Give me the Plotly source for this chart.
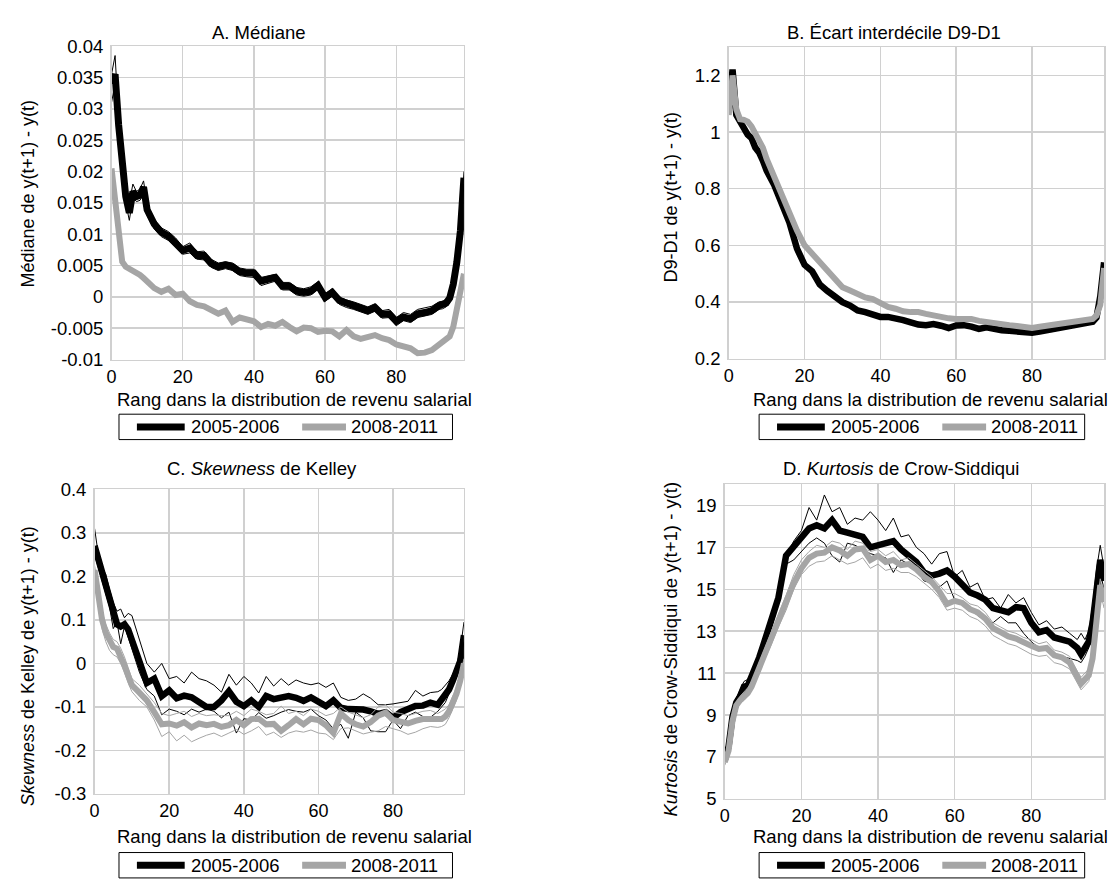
import plotly.graph_objects as go

# ---------------- data ----------------
RANK = [0, 1, 2, 3, 4, 5, 6, 7, 8, 9, 10,
        12, 14, 16, 18, 20, 22, 24, 26, 28, 30,
        32, 34, 36, 38, 40, 42, 44, 46, 48, 50,
        52, 54, 56, 58, 60, 62, 64, 66, 68, 70,
        72, 74, 76, 78, 80, 82, 84, 86, 88, 90,
        92, 93, 94, 95, 96, 97, 98, 99]

X_TICKS = [0, 20, 40, 60, 80]

# A. Mediane
A_2005 = [0.0340, 0.0355, 0.0274, 0.0207, 0.0160, 0.0134, 0.0168, 0.0160, 0.0162, 0.0175, 0.0139,
          0.0116, 0.0103, 0.0097, 0.0087, 0.0074, 0.0078, 0.0066, 0.0066, 0.0053, 0.0048,
          0.0051, 0.0048, 0.0040, 0.0038, 0.0038, 0.0025, 0.0027, 0.0031, 0.0017, 0.0017,
          0.0009, 0.0007, 0.0009, 0.0018, -0.0001, 0.0007, -0.0006, -0.0011, -0.0014, -0.0018,
          -0.0022, -0.0017, -0.0028, -0.0027, -0.0039, -0.0032, -0.0035, -0.0027, -0.0025, -0.0022,
          -0.0014, -0.0013, -0.0010, -0.0002, 0.0020, 0.0055, 0.0105, 0.0190]
A_2005_HI = [0.0355, 0.0385, 0.0285, 0.0215, 0.0170, 0.0150, 0.0180, 0.0168, 0.0172, 0.0185, 0.0148,
             0.0124, 0.0110, 0.0104, 0.0094, 0.0080, 0.0086, 0.0072, 0.0073, 0.0060, 0.0054,
             0.0056, 0.0054, 0.0046, 0.0044, 0.0044, 0.0031, 0.0034, 0.0036, 0.0023, 0.0023,
             0.0015, 0.0013, 0.0016, 0.0024, 0.0005, 0.0013, 0.0000, -0.0005, -0.0008, -0.0012,
             -0.0016, -0.0011, -0.0022, -0.0020, -0.0033, -0.0025, -0.0028, -0.0020, -0.0018, -0.0015,
             -0.0008, -0.0007, -0.0004, 0.0005, 0.0028, 0.0063, 0.0115, 0.0200]
A_2005_LO = [0.0310, 0.0340, 0.0262, 0.0198, 0.0150, 0.0122, 0.0158, 0.0152, 0.0154, 0.0165, 0.0130,
             0.0108, 0.0096, 0.0090, 0.0080, 0.0068, 0.0070, 0.0060, 0.0059, 0.0047, 0.0042,
             0.0045, 0.0042, 0.0034, 0.0032, 0.0031, 0.0018, 0.0021, 0.0025, 0.0011, 0.0011,
             0.0003, 0.0001, 0.0003, 0.0012, -0.0007, 0.0001, -0.0012, -0.0017, -0.0020, -0.0024,
             -0.0028, -0.0023, -0.0034, -0.0033, -0.0046, -0.0038, -0.0041, -0.0033, -0.0031, -0.0028,
             -0.0020, -0.0019, -0.0016, -0.0008, 0.0013, 0.0048, 0.0097, 0.0180]
A_2008 = [0.0205, 0.0160, 0.0097, 0.0056, 0.0048, 0.0045, 0.0041, 0.0038, 0.0035, 0.0030, 0.0024,
          0.0014, 0.0008, 0.0013, 0.0003, 0.0005, -0.0007, -0.0013, -0.0015, -0.0022, -0.0027,
          -0.0022, -0.0040, -0.0033, -0.0037, -0.0039, -0.0048, -0.0043, -0.0046, -0.0040, -0.0048,
          -0.0055, -0.0049, -0.0050, -0.0056, -0.0054, -0.0055, -0.0063, -0.0053, -0.0063, -0.0067,
          -0.0063, -0.0061, -0.0066, -0.0069, -0.0076, -0.0078, -0.0082, -0.0090, -0.0089, -0.0085,
          -0.0077, -0.0072, -0.0068, -0.0063, -0.0048, -0.0022, 0.0008, 0.0037]

# B. Ecart interdecile D9-D1
B_2005 = [1.08, 1.221, 1.06, 1.031, 1.014, 0.991, 0.979, 0.945, 0.928, 0.899, 0.864,
          0.813, 0.749, 0.680, 0.588, 0.531, 0.508, 0.462, 0.439, 0.416, 0.399,
          0.387, 0.370, 0.364, 0.358, 0.347, 0.347, 0.344, 0.336, 0.328, 0.320,
          0.318, 0.322, 0.316, 0.308, 0.317, 0.318, 0.313, 0.305, 0.310, 0.304,
          0.300, 0.298, 0.295, 0.294, 0.291, 0.295, 0.300, 0.306, 0.312, 0.316,
          0.320, 0.322, 0.324, 0.326, 0.330, 0.345, 0.42, 0.54]
B_2008 = [1.06, 1.20, 1.08, 1.045, 1.043, 1.037, 1.02, 0.996, 0.979, 0.945, 0.905,
          0.841, 0.784, 0.715, 0.652, 0.600, 0.571, 0.537, 0.508, 0.478, 0.452,
          0.440, 0.428, 0.416, 0.410, 0.393, 0.382, 0.376, 0.367, 0.364, 0.364,
          0.358, 0.352, 0.348, 0.342, 0.340, 0.341, 0.340, 0.333, 0.328, 0.324,
          0.321, 0.318, 0.315, 0.313, 0.308, 0.312, 0.316, 0.322, 0.326, 0.331,
          0.334, 0.334, 0.335, 0.336, 0.340, 0.352, 0.39, 0.52]

# C. Skewness de Kelley
C_2005 = [0.27, 0.24, 0.205, 0.175, 0.155, 0.12, 0.09, 0.085, 0.09, 0.078, 0.05,
          0.005, -0.045, -0.035, -0.075, -0.062, -0.08, -0.074, -0.078, -0.088, -0.1,
          -0.1, -0.085, -0.064, -0.088, -0.098, -0.085, -0.1, -0.075, -0.082, -0.079,
          -0.075, -0.079, -0.086, -0.078, -0.088, -0.098, -0.085, -0.102, -0.105, -0.104,
          -0.106, -0.11, -0.116, -0.112, -0.125, -0.112, -0.105, -0.098, -0.097, -0.09,
          -0.095, -0.085, -0.075, -0.06, -0.04, -0.02, 0.005, 0.065]
C_2005_HI = [0.31, 0.25, 0.22, 0.205, 0.17, 0.14, 0.12, 0.125, 0.105, 0.115, 0.11,
             0.055, 0.0, -0.02, 0.0, -0.035, -0.03, -0.045, -0.02, -0.035, -0.04,
             -0.05, -0.066, -0.025, -0.05, -0.03, -0.045, -0.068, -0.03, -0.052, -0.035,
             -0.05, -0.038, -0.045, -0.049, -0.045, -0.055, -0.045, -0.078, -0.085, -0.082,
             -0.07, -0.08, -0.095, -0.095, -0.093, -0.09, -0.087, -0.062, -0.075, -0.067,
             -0.065, -0.06, -0.05, -0.04, -0.025, -0.005, 0.03, 0.095]
C_2005_LO = [0.25, 0.22, 0.19, 0.16, 0.13, 0.08, 0.095, 0.045, 0.085, 0.06, 0.035,
             -0.02, -0.06, -0.075, -0.118, -0.105, -0.11, -0.118, -0.105, -0.112, -0.105,
             -0.11, -0.125, -0.112, -0.16, -0.127, -0.13, -0.113, -0.126, -0.12, -0.112,
             -0.106, -0.11, -0.112, -0.105, -0.12, -0.13, -0.15, -0.14, -0.172, -0.112,
             -0.125, -0.155, -0.157, -0.157, -0.13, -0.15, -0.12, -0.112, -0.122, -0.124,
             -0.11, -0.1, -0.09, -0.07, -0.05, -0.03, -0.005, 0.05]
C_2008 = [0.215, 0.15, 0.1, 0.07, 0.052, 0.038, 0.034, 0.018, -0.005, -0.028, -0.05,
          -0.067, -0.085, -0.112, -0.14, -0.138, -0.143, -0.135, -0.147, -0.138, -0.142,
          -0.139, -0.146, -0.142, -0.13, -0.142, -0.128, -0.127, -0.14, -0.139, -0.155,
          -0.142, -0.128, -0.14, -0.127, -0.13, -0.142, -0.16, -0.115, -0.13, -0.14,
          -0.145, -0.135, -0.12, -0.113, -0.13, -0.135, -0.138, -0.132, -0.128, -0.128,
          -0.13, -0.128, -0.122, -0.11, -0.09, -0.07, -0.04, 0.0]
C_2008_HI = [0.225, 0.17, 0.12, 0.09, 0.07, 0.055, 0.05, 0.035, 0.015, -0.01, -0.035,
             -0.05, -0.07, -0.09, -0.115, -0.12, -0.115, -0.11, -0.122, -0.115, -0.12,
             -0.118, -0.12, -0.12, -0.11, -0.12, -0.105, -0.11, -0.118, -0.115, -0.098,
             -0.115, -0.11, -0.12, -0.105, -0.11, -0.12, -0.115, -0.1, -0.112, -0.118,
             -0.125, -0.118, -0.1, -0.095, -0.112, -0.115, -0.12, -0.115, -0.11, -0.108,
             -0.115, -0.11, -0.105, -0.095, -0.075, -0.055, -0.025, 0.01]
C_2008_LO = [0.19, 0.13, 0.08, 0.05, 0.03, 0.02, 0.015, 0.0, -0.02, -0.045, -0.065,
             -0.085, -0.1, -0.13, -0.168, -0.157, -0.178, -0.165, -0.18, -0.172, -0.165,
             -0.16, -0.168, -0.16, -0.152, -0.163, -0.155, -0.145, -0.165, -0.158, -0.17,
             -0.16, -0.155, -0.158, -0.153, -0.16, -0.162, -0.175, -0.15, -0.148, -0.155,
             -0.162, -0.158, -0.155, -0.145, -0.15, -0.155, -0.163, -0.158, -0.15, -0.145,
             -0.147, -0.145, -0.14, -0.125, -0.105, -0.085, -0.05, -0.01]

# D. Kurtosis de Crow-Siddiqui
D_2005 = [6.85, 7.5, 8.9, 9.6, 9.9, 10.35, 10.4, 10.8, 11.3, 11.75, 12.3,
          13.4, 14.6, 16.6, 17.05, 17.5, 17.9, 18.05, 17.9, 18.3, 17.8,
          17.7, 17.6, 17.5, 17.0, 17.1, 17.2, 17.3, 16.9, 16.6, 16.3,
          15.8, 15.65, 15.75, 15.9, 15.6, 15.2, 14.85, 14.7, 14.5, 14.1,
          14.0, 13.9, 14.15, 14.1, 13.4, 12.95, 13.05, 12.7, 12.6, 12.5,
          12.2, 11.9, 12.2, 12.5, 13.4, 15.0, 16.4, 15.4]
D_2005_HI = [6.9, 7.6, 9.1, 9.8, 10.2, 10.6, 10.7, 11.0, 11.5, 12.0, 12.5,
             13.6, 15.0, 16.6, 17.3, 17.8, 18.9, 18.3, 19.5, 18.7, 18.9,
             18.1, 18.4, 18.3, 18.7, 18.3, 17.8, 18.4, 17.5, 17.6, 17.0,
             16.7, 16.2, 16.7, 16.8, 15.6, 15.9, 15.1, 15.3, 14.5, 14.6,
             14.1, 14.75, 14.35, 14.6, 13.9, 13.3, 13.5, 13.1, 13.2, 12.9,
             12.6, 12.9, 12.6, 13.0, 14.2, 15.9, 17.1, 16.0]
D_2005_LO = [6.8, 7.3, 8.7, 9.4, 9.7, 10.0, 10.2, 10.5, 11.0, 11.5, 12.0,
             13.1, 14.3, 16.2, 16.4, 16.8, 17.2, 17.45, 17.2, 16.6, 16.3,
             17.2, 17.1, 16.9, 16.7, 16.6, 16.5, 15.8, 16.4, 16.2, 15.9,
             15.4, 15.3, 15.1, 15.4, 14.5, 14.4, 14.05, 13.75, 13.5, 13.4,
             13.7, 13.4, 13.4, 12.9, 12.5, 12.2, 12.25, 11.95, 11.8, 11.7,
             11.6, 11.5, 11.8, 12.2, 13.0, 14.5, 15.8, 15.0]
D_2008 = [6.75, 7.3, 8.7, 9.45, 9.7, 9.85, 10.05, 10.35, 10.8, 11.25, 11.75,
          12.6, 13.5, 14.35, 15.3, 16.0, 16.5, 16.7, 16.75, 17.0, 16.85,
          16.6, 16.9, 16.95, 16.4, 16.6, 16.3, 16.4, 16.15, 16.2, 15.95,
          15.6, 15.35, 14.9, 14.3, 14.45, 14.35, 14.05, 13.9, 13.6, 13.15,
          12.95, 12.75, 12.65, 12.45, 12.3, 12.15, 12.2, 11.85, 11.75, 11.5,
          10.8, 10.5, 10.7, 10.9, 11.7, 13.8, 15.2, 14.4]
D_2008_HI = [6.9, 7.5, 8.9, 9.6, 9.9, 10.1, 10.3, 10.6, 11.0, 11.5, 12.0,
             12.9, 13.8, 14.7, 15.7, 16.4, 16.8, 17.1, 17.0, 17.3, 17.2,
             16.9, 17.3, 17.2, 16.8, 16.9, 16.6, 16.8, 16.4, 16.5, 16.2,
             15.9, 15.6, 15.2, 14.8, 14.8, 14.6, 14.3, 14.2, 13.9, 13.4,
             13.2, 13.0, 12.9, 12.7, 12.6, 12.4, 12.5, 12.1, 12.0, 11.8,
             11.1, 10.8, 11.0, 11.2, 12.0, 14.1, 15.5, 14.7]
D_2008_LO = [6.6, 7.1, 8.5, 9.3, 9.55, 9.7, 9.9, 10.2, 10.6, 11.05, 11.5,
             12.3, 13.2, 14.0, 15.0, 15.7, 16.1, 16.3, 16.35, 16.6, 16.4,
             16.2, 16.3, 16.5, 16.0, 16.2, 15.9, 16.0, 15.8, 15.8, 15.6,
             15.3, 15.0, 14.6, 14.0, 14.1, 14.0, 13.7, 13.55, 13.25, 12.8,
             12.6, 12.4, 12.3, 12.1, 11.9, 11.8, 11.85, 11.5, 11.4, 11.2,
             10.5, 10.2, 10.4, 10.6, 11.4, 13.5, 14.9, 14.1]

A_TICKS = [-0.01, -0.005, 0, 0.005, 0.01, 0.015, 0.02, 0.025, 0.03, 0.035, 0.04]
A_TICKTEXT = ["-0.01", "-0.005", "0", "0.005", "0.01", "0.015", "0.02", "0.025", "0.03", "0.035", "0.04"]
B_TICKS = [0.2, 0.4, 0.6, 0.8, 1.0, 1.2]
B_TICKTEXT = ["0.2", "0.4", "0.6", "0.8", "1", "1.2"]
C_TICKS = [-0.3, -0.2, -0.1, 0, 0.1, 0.2, 0.3, 0.4]
C_TICKTEXT = ["-0.3", "-0.2", "-0.1", "0", "0.1", "0.2", "0.3", "0.4"]
D_TICKS = [5, 7, 9, 11, 13, 15, 17, 19]
D_TICKTEXT = ["5", "7", "9", "11", "13", "15", "17", "19"]

SERIES_NAMES = ["2005-2006", "2008-2011"]

# ---------------- styling ----------------
W, H = 1120, 885
FONT = "Liberation Sans, Arial, Helvetica, sans-serif"
BLACK = "#000000"
GREY = "#a5a5a5"
GRID = "#d0d0d0"
FS = 18.5
YTFS = 18.5
XTFS = 18


def px(x):
    return x / W


def py(y):
    return 1 - y / H


fig = go.Figure()

panels = [
    dict(ax="", xd=(107, 461), yd=(36, 357), yr=[-0.01, 0.04], tv=A_TICKS, tt=A_TICKTEXT,
         lines=[(A_2005_HI, BLACK, 1), (A_2005_LO, BLACK, 1), (A_2005, BLACK, 7),
                (A_2008, GREY, 6)]),
    dict(ax="2", xd=(727, 1104), yd=(37, 356), yr=[0.2, 1.3], tv=B_TICKS, tt=B_TICKTEXT,
         lines=[(B_2005, BLACK, 6.5), (B_2008, GREY, 6)]),
    dict(ax="3", xd=(90, 461), yd=(490, 802), yr=[-0.3, 0.4], tv=C_TICKS, tt=C_TICKTEXT,
         lines=[(C_2005_HI, BLACK, 1), (C_2005_LO, BLACK, 1), (C_2005, BLACK, 6.5),
                (C_2008_HI, GREY, 1), (C_2008_LO, GREY, 1), (C_2008, GREY, 6)]),
    dict(ax="4", xd=(723, 1104), yd=(485, 807), yr=[5, 20], tv=D_TICKS, tt=D_TICKTEXT,
         lines=[(D_2005_HI, BLACK, 1), (D_2005_LO, BLACK, 1), (D_2005, BLACK, 6.5),
                (D_2008_HI, GREY, 1), (D_2008_LO, GREY, 1), (D_2008, GREY, 6)]),
]

layout_axes = {}
for p in panels:
    a = p["ax"]
    for vals, col, wdt in p["lines"]:
        name = SERIES_NAMES[0] if col == BLACK else SERIES_NAMES[1]
        fig.add_trace(go.Scatter(
            x=RANK, y=vals, mode="lines", name=name,
            line=dict(color=col, width=wdt),
            xaxis="x" + a, yaxis="y" + a, showlegend=False, hoverinfo="skip"))
    common = dict(showgrid=True, gridcolor=GRID, gridwidth=1.5,
                  showline=True, linecolor=GRID, linewidth=1.5, mirror=True,
                  zeroline=False, ticks="")
    layout_axes["xaxis" + a] = dict(
        domain=[px(p["xd"][0]), px(p["xd"][1])], range=[0, 99],
        tickvals=X_TICKS, ticktext=[str(t) for t in X_TICKS],
        tickfont=dict(size=XTFS, color="black", family=FONT),
        anchor="y" + a, ticklabelstandoff=0, **common)
    layout_axes["yaxis" + a] = dict(
        domain=[py(p["yd"][1]), py(p["yd"][0])], range=p["yr"],
        tickvals=p["tv"], ticktext=p["tt"],
        tickfont=dict(size=YTFS, color="black", family=FONT),
        anchor="x" + a, ticklabelstandoff=3, **common)

annotations = []
shapes = []


def text(x, y, s, size=FS, xanchor="center", yanchor="middle", angle=0):
    annotations.append(dict(x=px(x), y=py(y), xref="paper", yref="paper", text=s,
                            showarrow=False, xanchor=xanchor, yanchor=yanchor,
                            textangle=angle, font=dict(size=size, color="black", family=FONT)))


# titles
text(255, 22, "A. Médiane")
text(893, 22, "B. Écart interdécile D9-D1")
text(258, 469, "C. <i>Skewness</i> de Kelley")
text(900, 469, "D. <i>Kurtosis</i> de Crow-Siddiqui")

# x-axis titles
XT = "Rang dans la distribution de revenu salarial"
text(291, 398, XT)
text(930, 398, XT)
text(291, 846, XT)
text(930, 846, XT)

# y-axis titles
text(23, 187, "Médiane de y(t+1) - y(t)", size=18, angle=-90)
text(669, 191, "D9-D1 de y(t+1) - y(t)", size=18, angle=-90)
text(23, 671, "<i>Skewness</i> de Kelley de y(t+1) - y(t)", size=18, angle=-90)
text(668, 654, "<i>Kurtosis</i> de Crow-Siddiqui de y(t+1) - y(t)", size=18.5, angle=-90)


def legend(x0, x1, ytop):
    yc = ytop + 13
    shapes.append(dict(type="rect", xref="paper", yref="paper",
                       x0=px(x0), x1=px(x1), y0=py(ytop + 26), y1=py(ytop),
                       line=dict(color="black", width=1), fillcolor="white"))
    shapes.append(dict(type="line", xref="paper", yref="paper",
                       x0=px(x0 + 18), x1=px(x0 + 66), y0=py(yc), y1=py(yc),
                       line=dict(color=BLACK, width=7)))
    text(x0 + 70, yc, SERIES_NAMES[0], xanchor="left")
    shapes.append(dict(type="line", xref="paper", yref="paper",
                       x0=px(x0 + 184), x1=px(x0 + 228), y0=py(yc), y1=py(yc),
                       line=dict(color=GREY, width=7)))
    text(x0 + 231, yc, SERIES_NAMES[1], xanchor="left")


legend(114.5, 449.5, 413)
legend(757.5, 1084.5, 413)
legend(114.5, 449.5, 862)
legend(757.5, 1084.5, 862)

fig.update_layout(
    width=W, height=H, margin=dict(l=0, r=0, t=0, b=0),
    paper_bgcolor="white", plot_bgcolor="white",
    font=dict(family=FONT, size=FS, color="black"),
    showlegend=False, annotations=annotations, shapes=shapes,
    **layout_axes)

fig.write_html("out.html", config={"displayModeBar": False, "staticPlot": True},
               post_script="document.body.style.margin='0';document.body.style.overflow='hidden';")
